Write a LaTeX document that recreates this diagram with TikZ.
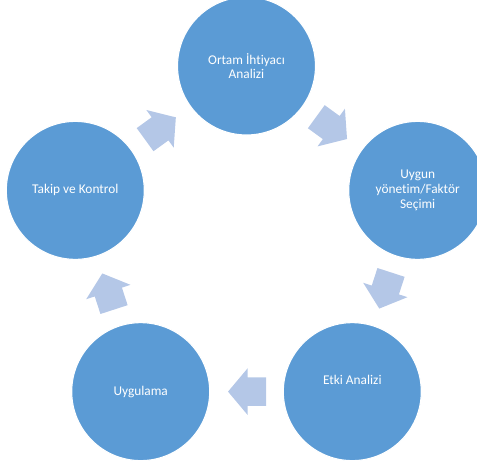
\documentclass[tikz,border=0pt]{standalone}
\usepackage{fontspec}
\setmainfont{Carlito}[Ligatures=NoCommon]
\usepackage{xcolor}
\definecolor{cMain}{HTML}{5B9BD5}
\definecolor{cLight}{HTML}{B4C7E7}
\usepackage{tikz}
\usetikzlibrary{shapes.arrows}
\tikzset{
  node-step/.style={circle,fill=cMain,draw=white,thick,minimum size=3.45cm,
    inner sep=0pt,align=center,text=white,font=\fontsize{9.5}{10.5}\selectfont},
  arrow-block/.style={single arrow,fill=cLight,draw=none,inner xsep=0pt,
    inner ysep=0.35cm,minimum height=0.95cm,single arrow head extend=0.225cm,
    single arrow tip angle=100,sloped,allow upside down,pos=0.41},
}
\begin{document}
\begin{tikzpicture}
  \useasboundingbox (-6.1625,-5.475) rectangle (5.7625,6.15);
  \clip (-6.1625,-5.475) rectangle (5.7625,6.15);
  % five steps on a regular pentagon
  \node[node-step] (ihtiyac) at (90:4.5) {Ortam İhtiyacı\\Analizi};
  \node[node-step] (secim) at (18:4.5) {Uygun\\yönetim/Faktör\\Seçimi};
  \node[node-step,text depth=17pt] (etki) at (-54:4.5) {Etki Analizi};
  \node[node-step] (uygulama) at (-126:4.5) {Uygulama};
  \node[node-step] (takip) at (162:4.5) {Takip ve Kontrol};
  % block arrows between the steps
  \path (ihtiyac) -- node[arrow-block]{} (secim);
  \path (secim) -- node[arrow-block]{} (etki);
  \path (etki) -- node[arrow-block]{} (uygulama);
  \path (uygulama) -- node[arrow-block]{} (takip);
  \path (takip) -- node[arrow-block]{} (ihtiyac);
\end{tikzpicture}
\end{document}
